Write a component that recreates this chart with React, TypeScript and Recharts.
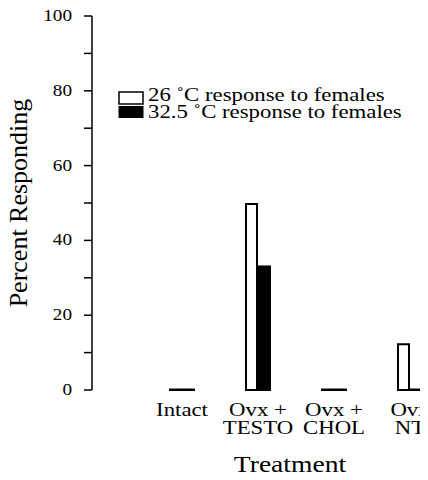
import React from 'react'
import { BarChart, Bar, XAxis, YAxis } from 'recharts'

const categories = [['Intact'], ['Ovx +', 'TESTO'], ['Ovx +', 'CHOL'], ['Ovx', 'NT']]
const warm = [0, 50, 0, 12.5]
const hot = [0, 33.3, 0, 0]
const yTicks = [0, 10, 20, 30, 40, 50, 60, 70, 80, 90, 100]
const legendLabels = ['26 ˚C response to females', '32.5 ˚C response to females']

const data = categories.map((lines, i) => ({
  name: lines.join(' '),
  lines,
  warm: warm[i],
  hot: hot[i],
}))

const FONT = 'Liberation Serif'
const SX = 1.2
const txt = { fontFamily: FONT }

const BarShape = (props: any) => {
  const { x, y, width, height, fill } = props
  if (!height || height <= 0.5) {
    return <rect x={x} y={y - 1.5} width={width} height={2.5} fill="#000" />
  }
  return (
    <rect
      x={x + 1}
      y={y + 1}
      width={width - 2}
      height={height - 1}
      fill={fill}
      stroke="#000"
      strokeWidth={2}
    />
  )
}

const YTick = (props: any) => {
  const { x, y, payload } = props
  if (payload.value % 20 !== 0) return null
  return (
    <text
      transform={`translate(${x - 10}, ${y + 5}) scale(${SX}, 1)`}
      textAnchor="end"
      style={txt}
      fontSize={16}
      fill="#000"
    >
      {payload.value}
    </text>
  )
}

const XTick = (props: any) => {
  const { x, y, payload, index } = props
  const lines = categories[index] || [payload.value]
  return (
    <g>
      {lines.map((l, i) => (
        <text
          key={i}
          transform={`translate(${x}, ${y + 18 + i * 18}) scale(${SX}, 1)`}
          textAnchor="middle"
          style={txt}
          fontSize={19}
          fill="#000"
        >
          {l}
        </text>
      ))}
    </g>
  )
}

const LegendBox = () => (
  <svg width={310} height={40} style={{ display: 'block' }}>
    <rect x={1} y={8} width={24} height={12} fill="#fff" stroke="#000" strokeWidth={1.5} />
    <rect x={0.5} y={22} width={25} height={12} fill="#000" />
    {legendLabels.map((t, i) => (
      <text
        key={i}
        transform={`translate(30, ${17 + i * 17}) scale(${SX}, 1)`}
        style={txt}
        fontSize={19}
        fill="#000"
      >
        {t}
      </text>
    ))}
  </svg>
)

export default function App() {
  return (
    <div
      style={{
        position: 'relative',
        margin: '-8px 0 0 -8px',
        width: 428,
        height: 480,
        overflow: 'hidden',
        background: '#fff',
      }}
    >
      <BarChart
        width={458}
        height={480}
        data={data}
        margin={{ top: 16, right: 10, bottom: 0, left: 32 }}
        barCategoryGap={25}
        barGap={0}
      >
        <XAxis
          dataKey="name"
          axisLine={false}
          tickLine={false}
          padding={{ left: 52, right: 0 }}
          tick={<XTick />}
          interval={0}
          height={90}
          label={(p: any) => {
            const vb = p.viewBox
            return (
              <text
                transform={`translate(${vb.x + vb.width / 2 + 20}, ${vb.y + 82}) scale(${SX}, 1)`}
                textAnchor="middle"
                style={txt}
                fontSize={23}
                fill="#000"
              >
                Treatment
              </text>
            )
          }}
        />
        <YAxis
          domain={[0, 100]}
          ticks={yTicks}
          interval={0}
          width={60}
          axisLine={{ stroke: '#000', strokeWidth: 1.5 }}
          tickLine={{ stroke: '#000', strokeWidth: 1.5 }}
          tickSize={8}
          tick={<YTick />}
          label={(p: any) => {
            const vb = p.viewBox
            const cx = vb.x - 14
            const cy = vb.y + vb.height / 2
            return (
              <text
                x={cx}
                y={cy}
                transform={`rotate(-90, ${cx}, ${cy})`}
                textAnchor="middle"
                dominantBaseline="central"
                style={txt}
                fontSize={26}
                fill="#000"
              >
                Percent Responding
              </text>
            )
          }}
        />
        <Bar dataKey="warm" fill="#fff" shape={<BarShape />} isAnimationActive={false} />
        <Bar dataKey="hot" fill="#000" shape={<BarShape />} isAnimationActive={false} />
      </BarChart>
      <div style={{ position: 'absolute', left: 118, top: 84 }}>
        <LegendBox />
      </div>
    </div>
  )
}
